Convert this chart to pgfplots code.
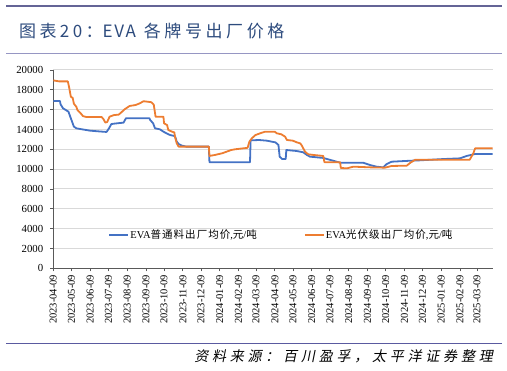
\documentclass[border=0pt]{standalone}
\usepackage{fontspec}
\setmainfont{Liberation Serif}
\newfontfamily\cjk{Noto Sans CJK SC}
\newfontfamily\cjktitle[LetterSpace=20]{Noto Sans CJK SC}
\newfontfamily\cjktitleb[LetterSpace=21]{Noto Sans CJK SC}
\newfontfamily\lattitle[LetterSpace=10]{Noto Sans CJK SC}
\newfontfamily\cjkleg[LetterSpace=10]{Noto Sans CJK SC}
\newfontfamily\cjksrc[FakeSlant=0.2,LetterSpace=27]{Noto Sans CJK SC}
\usepackage{pgfplots}
\pgfplotsset{compat=1.18}
\definecolor{evablue}{RGB}{68,114,196}
\definecolor{evaorange}{RGB}{237,125,49}
\definecolor{axisgray}{RGB}{89,89,89}
\definecolor{gridgray}{RGB}{217,217,217}
\definecolor{titleblue}{RGB}{45,75,125}
\definecolor{topline}{RGB}{100,100,150}
\definecolor{line2}{RGB}{150,150,195}
\definecolor{botline}{RGB}{90,90,160}
\begin{document}
\begin{tikzpicture}
\path[use as bounding box] (0pt,0pt) rectangle (507pt,371pt);
\draw[color=topline, line width=2.2pt] (6pt,365pt) -- (502pt,365pt);
\node[anchor=west, inner sep=0pt, text=titleblue, font=\fontsize{17}{19}\selectfont] at (19pt,339.5pt) {{\cjktitle 图表20：}{\lattitle EVA}\hspace{8pt}{\cjktitleb 各牌号出厂价格}};
\draw[color=line2, line width=0.9pt] (6pt,318pt) -- (502pt,318pt);
\draw[color=botline, line width=1pt] (6pt,27pt) -- (502pt,27pt);
\node[anchor=east, inner sep=0pt, font=\cjksrc\fontsize{14}{16}\selectfont] at (493pt,14.3pt) {资料来源：百川盈孚，太平洋证券整理};
\begin{axis}[
  at={(53.3pt,102.7pt)}, anchor=south west,
  scale only axis, width=439.4pt, height=198.3pt,
  xmin=0, xmax=726, ymin=0, ymax=20000,
  axis lines=left,
  axis line style={-, draw=axisgray, line width=0.9pt},
  ytick={0,2000,...,20000},
  xtick={0,30,61,91,122,153,183,214,244,275,306,335,366,396,427,457,488,519,549,580,610,641,672,700},
  xticklabels={2023-04-09,2023-05-09,2023-06-09,2023-07-09,2023-08-09,2023-09-09,2023-10-09,2023-11-09,2023-12-09,2024-01-09,2024-02-09,2024-03-09,2024-04-09,2024-05-09,2024-06-09,2024-07-09,2024-08-09,2024-09-09,2024-10-09,2024-11-09,2024-12-09,2025-01-09,2025-02-09,2025-03-09},
  xticklabel style={rotate=90, anchor=east, font=\fontsize{10.5}{12}\selectfont},
  yticklabel style={font=\fontsize{10.8}{12}\selectfont, xshift=-3.5pt},
  /pgf/number format/assume math mode=true,
  /pgf/number format/1000 sep={},
  scaled y ticks=false,
  tick align=outside, major tick length=3pt,
  tick style={draw=axisgray, line width=0.8pt},
  ymajorgrids, grid style={draw=gridgray, line width=1pt},
  legend columns=2,
  legend style={at={(0.118,0.168)}, anchor=west, draw=none, fill=none,
    font=\fontsize{10.5}{12}\selectfont,
    nodes={inner xsep=1pt},
    /tikz/every even column/.append style={column sep=46pt}},
  legend image code/.code={\draw[#1,line width=2pt] (0pt,0pt) -- (19pt,0pt);},
]
\addplot[evablue, line width=1.8pt, line join=round] coordinates {
(0,16870) (11,16870) (12,16540) (16,16140) (25,15800) (28,15290) (30,14960)
(34,14290) (38,14120) (47,14020) (61,13880) (77,13800) (88,13750) (92,14120)
(96,14550) (102,14600) (116,14690) (120,15130) (159,15130) (160,14960)
(165,14620) (168,14120) (176,14020) (182,13780) (187,13610) (193,13440)
(201,13330) (204,12770) (207,12540) (212,12380) (220,12270) (257,12270)
(258,10700) (325,10700) (326,12900) (340,12940) (353,12870) (361,12770)
(367,12700) (372,12440) (374,11260) (378,11020) (384,11020) (385,11930)
(402,11830) (413,11700) (419,11430) (424,11260) (446,11130) (474,10650)
(512,10650) (523,10420) (534,10250) (545,10180) (551,10520) (559,10750)
(590,10850) (600,10870) (645,11020) (672,11090) (683,11330) (697,11530)
(726,11530)
};
\addlegendentry{EVA{\cjkleg 普通料出厂均价},{\cjkleg 元}/{\cjkleg 吨}}
\addplot[evaorange, line width=1.8pt, line join=round] coordinates {
(0,18950) (10,18850) (24,18850) (26,18300) (29,17300) (32,17200) (34,16600)
(38,16300) (40,15950) (45,15650) (49,15350) (55,15250) (80,15250) (83,15030)
(86,14700) (89,14750) (93,15290) (100,15450) (108,15500) (111,15650)
(118,16040) (126,16370) (136,16470) (143,16640) (149,16850) (156,16800)
(162,16750) (166,16500) (169,15290) (182,15290) (183,14620) (188,14450)
(190,13950) (196,13780) (200,13700) (201,13270) (204,12600) (207,12270)
(257,12270) (258,11330) (267,11430) (279,11600) (294,11930) (300,12000)
(314,12100) (321,12150) (324,12770) (328,13110) (334,13440) (342,13620)
(347,13720) (350,13780) (366,13780) (369,13620) (377,13510) (383,13270)
(386,12940) (396,12870) (402,12710) (408,12600) (410,12440) (413,12100)
(416,11760) (421,11500) (430,11430) (446,11330) (448,10700) (474,10700)
(475,10120) (485,10080) (496,10250) (524,10180) (548,10150) (559,10320)
(584,10350) (590,10650) (598,10950) (688,10950) (694,11600) (697,12100)
(726,12100)
};
\addlegendentry{EVA{\cjkleg 光伏级出厂均价},{\cjkleg 元}/{\cjkleg 吨}}
\end{axis}
\end{tikzpicture}
\end{document}
